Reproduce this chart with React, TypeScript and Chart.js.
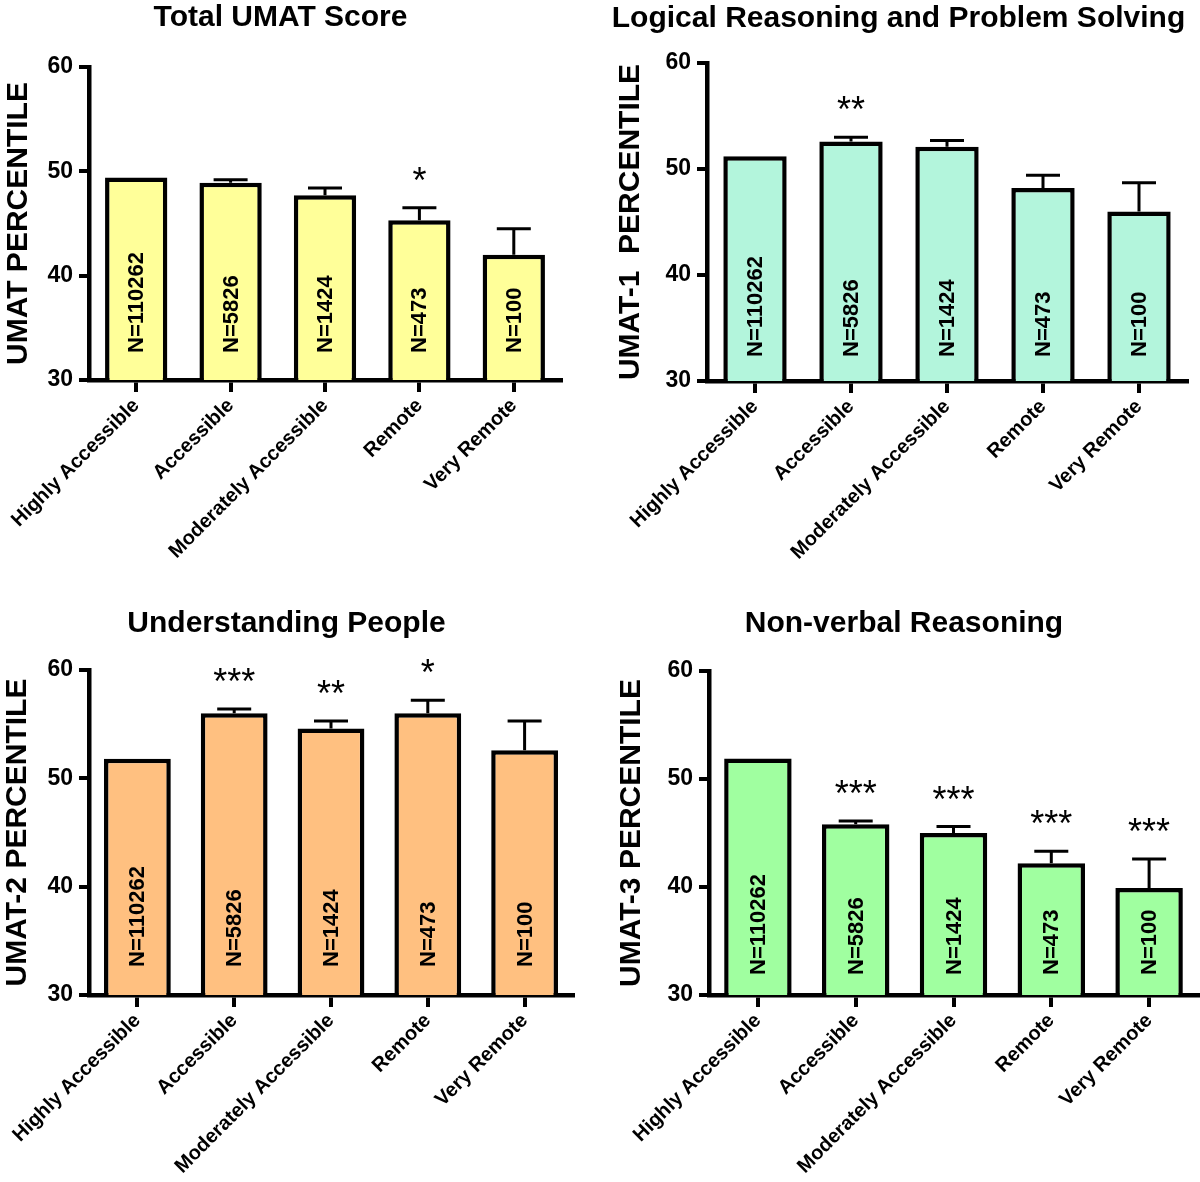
import React, { useEffect, useRef } from "react";
import { Chart, registerables } from "chart.js";

Chart.register(...registerables);

// ---------- data ----------
const categories = ["Highly Accessible", "Accessible", "Moderately Accessible", "Remote", "Very Remote"];
const sampleSizes = ["N=110262", "N=5826", "N=1424", "N=473", "N=100"];
const yMin = 30;
const yMax = 60;
const yStep = 10;

const totalMeans = [49.4, 48.9, 47.7, 45.3, 42.0];
const totalSem = [0, 0.3, 0.7, 1.2, 2.5];
const totalSig = ["", "", "", "*", ""];

const umat1Means = [51.2, 52.6, 52.1, 48.2, 46.0];
const umat1Sem = [0, 0.4, 0.6, 1.2, 2.7];
const umat1Sig = ["", "**", "", "", ""];

const umat2Means = [51.8, 56.0, 54.6, 56.0, 52.6];
const umat2Sem = [0, 0.4, 0.7, 1.2, 2.7];
const umat2Sig = ["", "***", "**", "*", ""];

const umat3Means = [51.9, 45.8, 45.0, 42.2, 39.9];
const umat3Sem = [0, 0.3, 0.6, 1.1, 2.7];
const umat3Sig = ["", "***", "***", "***", "***"];

const FONT = '"Liberation Sans", Arial, Helvetica, sans-serif';

type PanelCfg = {
  title: string;
  yTitle: string;
  means: number[];
  sem: number[];
  sig: string[];
  color: string;
  x: number;
  y: number;
  w: number;
  h: number;
  yWidth: number;
  xHeight: number;
  padRight: number;
  titleTop: number;
  titleBottom: number;
  yTitlePad: number;
  nOffset: number;
  barPct: number;
};

const panels: PanelCfg[] = [
  {
    title: "Total UMAT Score", yTitle: "UMAT PERCENTILE", means: totalMeans, sem: totalSem, sig: totalSig,
    color: "#FFFF99", x: 0, y: 0, w: 575, h: 590, yWidth: 89, xHeight: 210, padRight: 14,
    titleTop: 0, titleBottom: 31, yTitlePad: 1, nOffset: 27, barPct: 0.66,
  },
  {
    title: "Logical Reasoning and Problem Solving", yTitle: "UMAT-1  PERCENTILE", means: umat1Means, sem: umat1Sem, sig: umat1Sig,
    color: "#B3F5DC", x: 610, y: 0, w: 590, h: 590, yWidth: 97, xHeight: 209, padRight: 13,
    titleTop: 1, titleBottom: 26, yTitlePad: 3, nOffset: 24, barPct: 0.66,
  },
  {
    title: "Understanding People", yTitle: "UMAT-2 PERCENTILE", means: umat2Means, sem: umat2Sem, sig: umat2Sig,
    color: "#FFC080", x: 0, y: 590, w: 575, h: 592, yWidth: 89, xHeight: 187, padRight: 2,
    titleTop: 16, titleBottom: 28, yTitlePad: 0, nOffset: 28, barPct: 0.69,
  },
  {
    title: "Non-verbal Reasoning", yTitle: "UMAT-3 PERCENTILE", means: umat3Means, sem: umat3Sem, sig: umat3Sig,
    color: "#A0FFA0", x: 610, y: 590, w: 590, h: 592, yWidth: 99, xHeight: 187, padRight: 2,
    titleTop: 16, titleBottom: 29, yTitlePad: 4, nOffset: 20, barPct: 0.69,
  },
];

const annotatePlugin = {
  id: "annotate",
  afterDatasetsDraw(chart: any, _args: any, opts: any) {
    const { ctx, scales } = chart;
    const yScale = scales.y;
    const meta = chart.getDatasetMeta(0);
    const means: number[] = opts.means;
    const sem: number[] = opts.sem;
    const sig: string[] = opts.sig;
    ctx.save();
    means.forEach((m, i) => {
      const el = meta.data[i];
      if (!el) return;
      const cx = el.x;
      const yBar = yScale.getPixelForValue(m);
      const yErr = yScale.getPixelForValue(m + sem[i]);
      // error bar (upper half)
      if (sem[i] > 0) {
        ctx.strokeStyle = "#000";
        ctx.lineWidth = 3;
        ctx.lineCap = "butt";
        ctx.beginPath();
        ctx.moveTo(cx, yBar);
        ctx.lineTo(cx, yErr);
        ctx.moveTo(cx - 17, yErr);
        ctx.lineTo(cx + 17, yErr);
        ctx.stroke();
      }
      // significance stars
      if (sig[i]) {
        ctx.fillStyle = "#000";
        ctx.font = `36px ${FONT}`;
        ctx.textAlign = "center";
        ctx.textBaseline = "alphabetic";
        ctx.fillText(sig[i], cx, yErr - 15);
      }
      // sample size label
      ctx.save();
      ctx.translate(cx, yScale.getPixelForValue(yMin) - opts.nOffset);
      ctx.rotate(-Math.PI / 2);
      ctx.fillStyle = "#000";
      ctx.font = `bold 22px ${FONT}`;
      ctx.textAlign = "left";
      ctx.textBaseline = "middle";
      ctx.fillText(sampleSizes[i], 0, 1);
      ctx.restore();
    });
    ctx.restore();
  },
};

function Panel({ cfg }: { cfg: PanelCfg }) {
  const ref = useRef<HTMLCanvasElement | null>(null);
  useEffect(() => {
    if (!ref.current) return;
    const chart = new Chart(ref.current, {
      type: "bar",
      data: {
        labels: categories,
        datasets: [
          {
            data: cfg.means,
            backgroundColor: cfg.color,
            borderColor: "#000",
            borderWidth: 4.5,
            borderSkipped: false,
            barPercentage: cfg.barPct,
            categoryPercentage: 1,
          },
        ],
      },
      options: {
        animation: false,
        responsive: false,
        devicePixelRatio: 1,
        layout: { padding: { left: 0, right: cfg.padRight, top: 0, bottom: 0 } },
        plugins: {
          legend: { display: false },
          tooltip: { enabled: false },
          title: {
            display: true,
            text: cfg.title,
            color: "#000",
            font: { family: FONT, size: 30, weight: "bold" },
            padding: { top: cfg.titleTop, bottom: cfg.titleBottom },
          },
          annotate: {
            means: cfg.means,
            sem: cfg.sem,
            sig: cfg.sig,
            nOffset: cfg.nOffset,
          },
        } as any,
        scales: {
          x: {
            type: "category",
            offset: true,
            grid: {
              display: true,
              offset: false,
              drawOnChartArea: false,
              drawTicks: true,
              tickLength: 12,
              lineWidth: 4,
              tickWidth: 4,
              color: "#000",
              tickColor: "#000",
            },
            border: { display: true, color: "#000", width: 4.5 },
            ticks: {
              color: "#000",
              font: { family: FONT, size: 20, weight: "bold" },
              minRotation: 45,
              maxRotation: 45,
              autoSkip: false,
              padding: 2,
            },
            afterFit: (scale: any) => {
              scale.height = cfg.xHeight;
            },
          },
          y: {
            min: yMin,
            max: yMax,
            grid: {
              display: true,
              drawOnChartArea: false,
              drawTicks: true,
              tickLength: 10,
              lineWidth: 4,
              tickWidth: 4,
              color: "#000",
              tickColor: "#000",
            },
            border: { display: true, color: "#000", width: 4.5 },
            ticks: {
              stepSize: yStep,
              color: "#000",
              font: { family: FONT, size: 23, weight: "bold" },
              padding: 6,
            },
            title: {
              display: true,
              text: cfg.yTitle,
              color: "#000",
              font: { family: FONT, size: 30, weight: "bold" },
              padding: { top: cfg.yTitlePad, bottom: 0 },
            },
            afterFit: (scale: any) => {
              scale.width = cfg.yWidth;
            },
          },
        },
      },
      plugins: [annotatePlugin],
    } as any);
    return () => chart.destroy();
  }, [cfg]);
  return (
    <canvas
      ref={ref}
      width={cfg.w}
      height={cfg.h}
      style={{ position: "absolute", left: cfg.x, top: cfg.y, width: cfg.w, height: cfg.h }}
    />
  );
}

export default function App() {
  return (
    <div style={{ position: "absolute", left: 0, top: 0, width: 1200, height: 1182, background: "#fff" }}>
      {panels.map((p) => (
        <Panel key={p.title} cfg={p} />
      ))}
    </div>
  );
}
